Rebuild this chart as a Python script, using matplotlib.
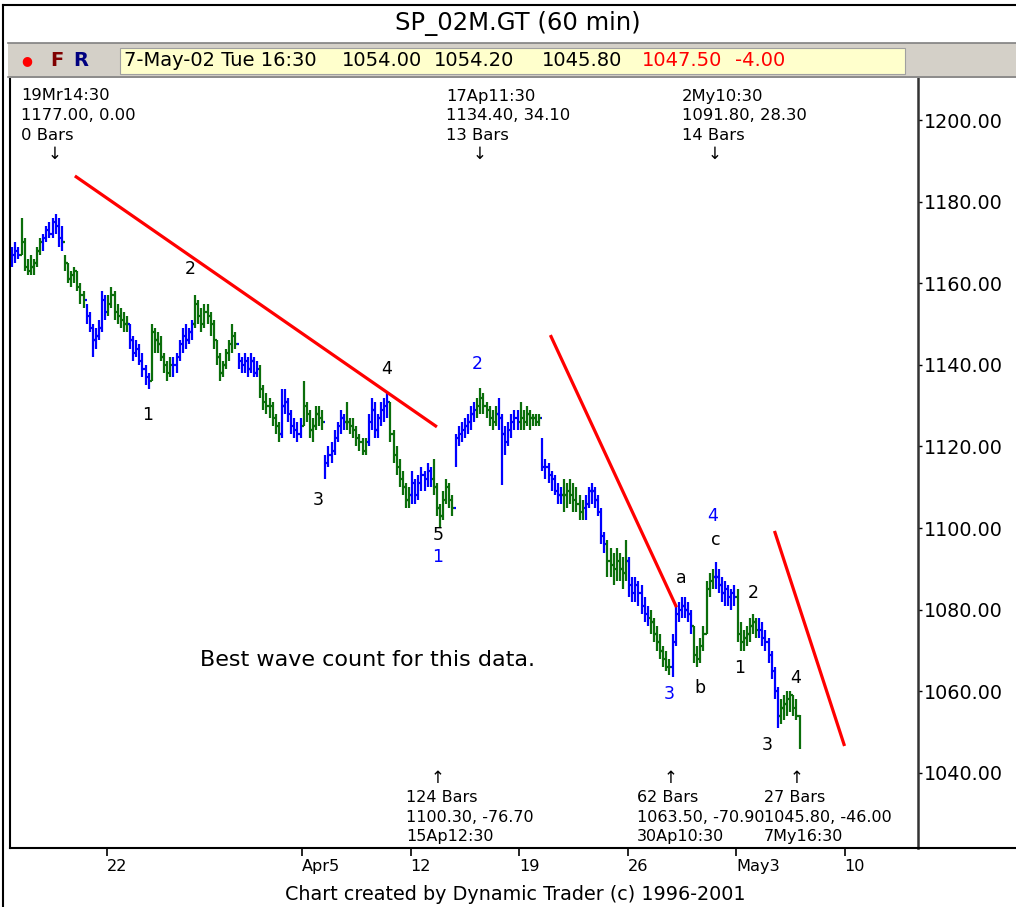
import datetime as dt
import numpy as np
import matplotlib
matplotlib.use("Agg")
import matplotlib.pyplot as plt
from matplotlib.collections import LineCollection
from matplotlib.patches import Rectangle
from matplotlib.lines import Line2D
import matplotlib.transforms as mtransforms

# trading days shown (15 Mar only partly visible)
days = ["2002-03-15", "2002-03-18", "2002-03-19", "2002-03-20", "2002-03-21", "2002-03-22",
        "2002-03-25", "2002-03-26", "2002-03-27", "2002-03-28",
        "2002-04-01", "2002-04-02", "2002-04-03", "2002-04-04", "2002-04-05",
        "2002-04-08", "2002-04-09", "2002-04-10", "2002-04-11", "2002-04-12",
        "2002-04-15", "2002-04-16", "2002-04-17", "2002-04-18", "2002-04-19",
        "2002-04-22", "2002-04-23", "2002-04-24", "2002-04-25", "2002-04-26",
        "2002-04-29", "2002-04-30", "2002-05-01", "2002-05-02", "2002-05-03",
        "2002-05-06", "2002-05-07"]
bars_per_day = [3] + [7] * 36
holidays = ["2002-03-29"]

first_open = 1168.0
highs = [1169, 1170, 1169,
         1176, 1171, 1166, 1167, 1166, 1169, 1171,
         1172, 1174, 1175, 1176, 1177, 1176, 1174,
         1167, 1165, 1163, 1164, 1163, 1160, 1158,
         1155, 1153, 1150, 1149, 1151, 1158, 1157,
         1157, 1159, 1158, 1155, 1154, 1153, 1152,
         1150, 1147, 1146, 1145, 1143, 1140, 1138,
         1150, 1149, 1148, 1147, 1143, 1141, 1142,
         1142, 1143, 1146, 1149, 1150, 1149, 1151,
         1157, 1156, 1154, 1155, 1155, 1153, 1151,
         1146, 1143, 1141, 1144, 1146, 1150, 1148,
         1143, 1142, 1143, 1142, 1143, 1142, 1141,
         1140, 1135, 1133, 1132, 1131, 1128, 1126,
         1134, 1134, 1132, 1129, 1127, 1126, 1127,
         1136, 1131, 1129, 1127, 1130, 1130, 1129,
         1118, 1120, 1121, 1124, 1126, 1129, 1128,
         1131, 1127, 1127, 1125, 1123, 1122, 1122,
         1128, 1132, 1131, 1128, 1131, 1132, 1133,
         1131, 1124, 1120, 1117, 1114, 1111, 1110,
         1114, 1112, 1113, 1115, 1114, 1116, 1115,
         1117, 1111, 1106, 1109, 1112, 1111, 1108,
         1123, 1125, 1126, 1127, 1128, 1130, 1131,
         1132, 1134.4, 1133, 1131, 1130, 1129, 1130,
         1132, 1128, 1125, 1126, 1128, 1129, 1129,
         1131, 1129, 1130, 1129, 1128, 1128, 1128,
         1122, 1117, 1116, 1114, 1113, 1111, 1110,
         1112, 1111, 1112, 1111, 1110, 1108, 1107,
         1108, 1110, 1111, 1110, 1108, 1105, 1099,
         1097, 1095, 1094, 1095, 1094, 1093, 1097,
         1093, 1088, 1088, 1087, 1086, 1083, 1081,
         1080, 1078, 1076, 1074, 1071, 1070, 1068,
         1074, 1081, 1082, 1083, 1083, 1082, 1080,
         1076, 1071, 1073, 1076, 1087, 1089, 1090,
         1091.8, 1090, 1088, 1087, 1086, 1085, 1086,
         1085, 1077, 1075, 1076, 1078, 1079, 1078,
         1078, 1077, 1075, 1073, 1070, 1066, 1061,
         1058, 1059, 1060, 1060, 1059, 1058, 1054.2]
lows = [1164, 1165, 1166,
        1167, 1163, 1162, 1162, 1162, 1164, 1167,
        1168, 1170, 1171, 1171, 1172, 1169, 1168,
        1163, 1160, 1159, 1160, 1158, 1155, 1154,
        1150, 1148, 1142, 1144, 1146, 1148, 1151,
        1152, 1154, 1151, 1150, 1149, 1148, 1148,
        1144, 1141, 1142, 1140, 1137, 1135, 1134,
        1136, 1143, 1143, 1141, 1138, 1136, 1137,
        1137, 1138, 1141, 1143, 1144, 1145, 1146,
        1149, 1150, 1148, 1149, 1150, 1147, 1144,
        1140, 1136, 1137, 1139, 1141, 1143, 1144,
        1139, 1138, 1138, 1137, 1138, 1137, 1137,
        1132, 1129, 1128, 1127, 1125, 1123, 1121,
        1122, 1128, 1126, 1123, 1122, 1121, 1122,
        1125, 1126, 1122, 1121, 1124, 1125, 1124,
        1112, 1115, 1116, 1118, 1121, 1123, 1124,
        1124, 1123, 1122, 1120, 1119, 1118, 1118,
        1120, 1124, 1122, 1122, 1125, 1126, 1127,
        1121, 1116, 1113, 1110, 1108, 1105, 1105,
        1106, 1106, 1107, 1109, 1109, 1110, 1110,
        1108, 1103, 1100.3, 1102, 1106, 1105, 1103,
        1115, 1120, 1121, 1122, 1123, 1124, 1126,
        1127, 1128, 1128, 1127, 1125, 1124, 1125,
        1124, 1110.5, 1118, 1120, 1122, 1124, 1124,
        1124, 1124, 1125, 1124, 1125, 1125, 1125,
        1114, 1112, 1111, 1109, 1108, 1106, 1106,
        1104, 1105, 1106, 1104, 1104, 1102, 1102,
        1102, 1105, 1106, 1105, 1103, 1096, 1094,
        1088, 1088, 1086, 1087, 1087, 1085, 1087,
        1083, 1082, 1082, 1081, 1079, 1077, 1076,
        1074, 1072, 1070, 1068, 1066, 1065, 1064,
        1063.5, 1071, 1077, 1078, 1078, 1077, 1074,
        1067, 1066, 1067, 1070, 1074, 1083, 1085,
        1085, 1084, 1082, 1081, 1081, 1080, 1081,
        1072, 1070, 1070, 1071, 1072, 1074, 1073,
        1073, 1071, 1070, 1067, 1063, 1058, 1051,
        1052, 1053, 1054, 1055, 1054, 1053, 1045.8]
closes = [1167, 1168, 1167,
          1170, 1164, 1163, 1164, 1165, 1168, 1170,
          1171, 1173, 1172, 1175, 1174, 1171, 1170,
          1165, 1161, 1162, 1163, 1159, 1157, 1156,
          1152, 1149, 1146, 1147, 1149, 1156, 1153,
          1155, 1157, 1153, 1152, 1151, 1150, 1150,
          1146, 1143, 1144, 1141, 1139, 1137, 1136,
          1148, 1146, 1145, 1142, 1140, 1138, 1140,
          1140, 1142, 1145, 1147, 1146, 1148, 1150,
          1155, 1152, 1150, 1153, 1152, 1150, 1146,
          1142, 1138, 1140, 1143, 1145, 1147, 1145,
          1141, 1140, 1141, 1139, 1141, 1138, 1139,
          1134, 1131, 1130, 1130, 1127, 1125, 1123,
          1130, 1131, 1128, 1125, 1124, 1123, 1125,
          1130, 1128, 1124, 1125, 1128, 1127, 1126,
          1116, 1118, 1119, 1122, 1125, 1127, 1126,
          1126, 1125, 1124, 1122, 1121, 1119, 1121,
          1126, 1129, 1124, 1127, 1129, 1130, 1131,
          1123, 1118, 1115, 1112, 1110, 1107, 1108,
          1111, 1108, 1111, 1113, 1112, 1114, 1112,
          1110, 1105, 1103, 1107, 1110, 1107, 1105,
          1122, 1123, 1124, 1125, 1126, 1128, 1129,
          1130, 1132, 1130, 1129, 1127, 1126, 1128,
          1127, 1123, 1121, 1124, 1126, 1127, 1126,
          1127, 1126, 1128, 1127, 1127, 1126, 1127,
          1115, 1115, 1113, 1112, 1109, 1108, 1108,
          1108, 1109, 1108, 1107, 1106, 1104, 1105,
          1106, 1109, 1109, 1107, 1104, 1098, 1096,
          1092, 1091, 1090, 1092, 1090, 1089, 1092,
          1086, 1084, 1086, 1084, 1081, 1079, 1078,
          1077, 1074, 1072, 1070, 1068, 1066, 1066,
          1072, 1079, 1080, 1081, 1080, 1079, 1076,
          1069, 1068, 1071, 1074, 1085, 1087, 1088,
          1088, 1086, 1084, 1085, 1083, 1084, 1083,
          1074, 1072, 1073, 1074, 1076, 1077, 1075,
          1075, 1073, 1072, 1069, 1065, 1060, 1054,
          1056, 1057, 1058, 1059, 1056, 1054, 1047.5]

# trend lines: (bar, price) end points
trend_bars = [(20.2, 137.0), (173.6, 214.3), (245.9, 268.5)]
trend_prices = [(1186.3, 1124.8), (1147.3, 1080.6), (1099.3, 1046.6)]

tick_days = ["2002-03-22", "2002-04-05", "2002-04-12", "2002-04-19", "2002-04-26", "2002-05-03", "2002-05-10"]
tick_labels = ["22", "Apr5", "12", "19", "26", "May3", "10"]
y_ticks = [1040, 1060, 1080, 1100, 1120, 1140, 1160, 1180, 1200]

BLUE = "#0000ff"
GREEN = "#0b6e0b"
W, H = 1016, 907


def P(x, y):
    return x / W, 1 - y / H


fig = plt.figure(figsize=(W / 100, H / 100), dpi=100)
fig.patch.set_facecolor("white")

ax = fig.add_axes([10 / W, (H - 848) / H, 908 / W, 770 / H])

# bars
opens = [first_open] + closes[:-1]
d0 = dt.date.fromisoformat(days[0])
segs, cols = [], []
i = 0
for day, n in zip(days, bars_per_day):
    d = dt.date.fromisoformat(day)
    c = BLUE if (d - d0).days % 2 == 0 else GREEN
    for _ in range(n):
        segs.append([(i, lows[i]), (i, highs[i])])
        segs.append([(i - 0.55, opens[i]), (i, opens[i])])
        segs.append([(i, closes[i]), (i + 0.55, closes[i])])
        cols += [c, c, c]
        i += 1
ax.add_collection(LineCollection(segs, colors=cols, linewidths=1.6, capstyle="butt"))

for bx, py in zip(trend_bars, trend_prices):
    ax.plot(bx, py, color="#ff0000", lw=2.3, solid_capstyle="butt")

ax.set_xlim(-0.73, 292.2)
ax.set_ylim(1021.6, 1210.3)

# x ticks at start of trading day (7 bars per day)
tick_pos = [3 + 7 * np.busday_count("2002-03-18", d, holidays=holidays) - 0.5 for d in tick_days]
ax.set_xticks(tick_pos)
ax.set_xticklabels(tick_labels, fontsize=11.6)
off = mtransforms.ScaledTranslation(3 / 72, 0, fig.dpi_scale_trans)
for lab in ax.get_xticklabels():
    lab.set_horizontalalignment("left")
    lab.set_transform(lab.get_transform() + off)
ax.tick_params(axis="x", direction="out", length=6, width=1.2, pad=2)

ax.yaxis.tick_right()
ax.set_yticks(y_ticks)
ax.set_yticklabels(["%.2f" % v for v in y_ticks], fontsize=13.8)
ax.tick_params(axis="y", direction="out", length=3, width=1, pad=1)

ax.spines["top"].set_visible(False)
ax.spines["left"].set_linewidth(1.5)
ax.spines["right"].set_linewidth(1.8)
ax.spines["right"].set_color("#333333")
ax.spines["bottom"].set_linewidth(1.5)

# bottom axis line continues under the price scale
fig.add_artist(Line2D([918 / W, 1.0], [(H - 848) / H] * 2, color="black", lw=1.5))

# header
fig.add_artist(Line2D([3 / W, 3 / W], [P(0, 5)[1], 0], color="black", lw=1.5))
fig.add_artist(Line2D([3 / W, 1], [P(0, 5)[1]] * 2, color="black", lw=1.5))
fig.text(*P(518, 23), "SP_02M.GT (60 min)", ha="center", va="center", fontsize=17.5)
fig.add_artist(Rectangle(P(8, 78), (W - 8) / W, 35 / H, facecolor="#d4d0c8", edgecolor="none"))
fig.add_artist(Line2D([8 / W, 1], [P(0, 43)[1]] * 2, color="#808080", lw=1.2))
fig.add_artist(Line2D([8 / W, 1], [P(0, 77)[1]] * 2, color="#808080", lw=1.2))
fig.add_artist(Rectangle(P(120, 74), 785 / W, 26 / H, facecolor="#ffffcc", edgecolor="#a0a0a0", lw=0.8))
fig.text(*P(27, 61), "\u25cf", color="#ff0000", fontsize=9, ha="center", va="center")
fig.text(*P(57, 61), "F", color="#800000", fontsize=14, fontweight="bold", ha="center", va="center")
fig.text(*P(81, 61), "R", color="#000080", fontsize=14, fontweight="bold", ha="center", va="center")
info = [(124, "7-May-02 Tue 16:30", "black"), (342, "1054.00", "black"), (434, "1054.20", "black"),
        (542, "1045.80", "black"), (642, "1047.50", "#ff0000"), (735, "-4.00", "#ff0000")]
for x, t, c in info:
    fig.text(*P(x, 61), t, color=c, fontsize=14, ha="left", va="center")

# swing annotations
top_notes = [(21, 55, "19Mr14:30", "1177.00, 0.00", "0 Bars"),
             (446, 480, "17Ap11:30", "1134.40, 34.10", "13 Bars"),
             (682, 715, "2My10:30", "1091.80, 28.30", "14 Bars")]
for x, ax_x, a, b, c in top_notes:
    for k, t in enumerate([a, b, c]):
        fig.text(*P(x, 96 + 19.5 * k), t, fontsize=11.8, ha="left", va="center")
    fig.text(*P(ax_x, 154), "\u2193", fontsize=12, ha="center", va="center")

bot_notes = [(406, 438, "124 Bars", "1100.30, -76.70", "15Ap12:30"),
             (637, 671, "62 Bars", "1063.50, -70.90", "30Ap10:30"),
             (764, 797, "27 Bars", "1045.80, -46.00", "7My16:30")]
for x, ax_x, a, b, c in bot_notes:
    fig.text(*P(ax_x, 778), "\u2191", fontsize=12, ha="center", va="center")
    for k, t in enumerate([a, b, c]):
        fig.text(*P(x, 798 + 19.5 * k), t, fontsize=11.5, ha="left", va="center")

# wave labels
waves = [(190, 269, "2", "black"), (148, 415, "1", "black"), (387, 369, "4", "black"),
         (318, 500, "3", "black"), (438, 535, "5", "black"), (438, 557, "1", BLUE),
         (477, 364, "2", BLUE), (681, 578, "a", "black"), (713, 516, "4", BLUE),
         (716, 540, "c", "black"), (669, 694, "3", BLUE), (700, 688, "b", "black"),
         (753, 593, "2", "black"), (740, 668, "1", "black"), (796, 678, "4", "black"),
         (767, 745, "3", "black")]
for x, y, t, c in waves:
    fig.text(*P(x, y), t, color=c, fontsize=12.5, ha="center", va="center")

fig.text(*P(368, 660), "Best wave count for this data.", fontsize=16, ha="center", va="center")
fig.text(*P(515, 895), "Chart created by Dynamic Trader (c) 1996-2001", fontsize=13.8, ha="center", va="center")

fig.savefig("out.png", dpi=100)
